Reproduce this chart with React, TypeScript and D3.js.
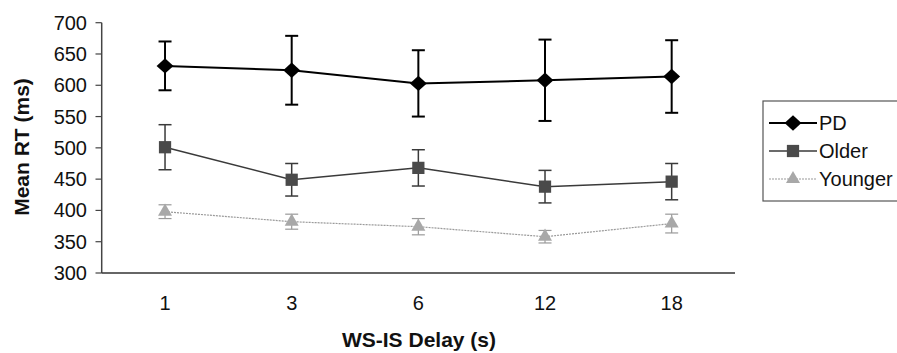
import React from 'react';
import * as d3 from 'd3';

// data
const delays = ['1', '3', '6', '12', '18'];
const pdMean = [631, 624, 603, 608, 614];
const pdErr = [39, 55, 53, 65, 58];
const olderMean = [501, 449, 468, 438, 446];
const olderErr = [36, 26, 29, 26, 29];
const youngerMean = [398, 382, 374, 358, 379];
const youngerErr = [11, 12, 13, 10, 15];
const yTicks = [300, 350, 400, 450, 500, 550, 600, 650, 700];

const W = 897;
const H = 353;
const FONT = 'Liberation Sans, Arial, sans-serif';

const x = d3.scalePoint<string>().domain(delays).range([101.7, 735]).padding(0.5);
const y = d3.scaleLinear().domain([300, 700]).range([273, 22.7]);

const series = [
  { name: 'PD', mean: pdMean, err: pdErr, color: '#000', width: 2, symbol: d3.symbolDiamond2, size: 150, fill: '#000', sx: 1.1, dash: undefined as string | undefined },
  { name: 'Older', mean: olderMean, err: olderErr, color: '#3a3a3a', width: 1.5, symbol: d3.symbolSquare, size: 150, fill: '#4a4a4a', sx: 1, dash: undefined },
  { name: 'Younger', mean: youngerMean, err: youngerErr, color: '#9a9a9a', width: 1.2, symbol: d3.symbolTriangle, size: 85, fill: '#a8a8a8', sx: 1, dash: '2,1' },
];

const line = d3.line<number>().x((_, i) => x(delays[i])!).y(d => y(d));

export default function App() {
  const cap = 6.5;
  return (
    <svg width={W} height={H} style={{ position: 'absolute', left: 0, top: 0, background: '#fff' }}>
      {/* y axis */}
      <line x1={101.7} x2={101.7} y1={y(700)} y2={y(300)} stroke="#444" strokeWidth={1.5} />
      {yTicks.map(t => (
        <g key={t}>
          <line x1={95.5} x2={101.7} y1={y(t)} y2={y(t)} stroke="#444" strokeWidth={1.2} />
          <text x={87} y={y(t)} dy="0.35em" textAnchor="end" fontFamily={FONT} fontSize={20} fill="#111">{t}</text>
        </g>
      ))}
      {/* x axis */}
      <line x1={101.7} x2={735} y1={y(300)} y2={y(300)} stroke="#333" strokeWidth={1.5} />
      {delays.map(d => (
        <text key={d} x={x(d)} y={310} textAnchor="middle" fontFamily={FONT} fontSize={20} fill="#111">{d}</text>
      ))}
      <text x={419} y={347} textAnchor="middle" fontFamily={FONT} fontSize={21} fontWeight="bold" fill="#111">WS-IS Delay (s)</text>
      <text transform="translate(29,147) rotate(-90)" textAnchor="middle" fontFamily={FONT} fontSize={21} fontWeight="bold" fill="#111">Mean RT (ms)</text>

      {/* series */}
      {series.map(s => (
        <g key={s.name}>
          <path d={line(s.mean)!} fill="none" stroke={s.color} strokeWidth={s.width} strokeDasharray={s.dash} />
          {s.mean.map((m, i) => {
            const cx = x(delays[i])!;
            return (
              <g key={i} stroke={s.color} strokeWidth={s.width}>
                <line x1={cx} x2={cx} y1={y(m + s.err[i])} y2={y(m - s.err[i])} />
                <line x1={cx - cap} x2={cx + cap} y1={y(m + s.err[i])} y2={y(m + s.err[i])} />
                <line x1={cx - cap} x2={cx + cap} y1={y(m - s.err[i])} y2={y(m - s.err[i])} />
              </g>
            );
          })}
          {s.mean.map((m, i) => (
            <path key={'m' + i} transform={`translate(${x(delays[i])},${y(m)}) scale(${s.sx},1)`}
              d={d3.symbol(s.symbol, s.size)()!} fill={s.fill} />
          ))}
        </g>
      ))}

      {/* legend */}
      <rect x={763} y={101} width={140} height={100} fill="none" stroke="#555" strokeWidth={1.2} />
      {series.map((s, i) => {
        const ly = 123 + i * 28;
        return (
          <g key={s.name}>
            <line x1={769} x2={817} y1={ly} y2={ly} stroke={s.color} strokeWidth={s.width} strokeDasharray={s.dash} />
            <path transform={`translate(793,${ly}) scale(${s.sx},1)`} d={d3.symbol(s.symbol, s.size)()!} fill={s.fill} />
            <text x={819} y={ly} dy="0.35em" fontFamily={FONT} fontSize={20} fill="#111">{s.name}</text>
          </g>
        );
      })}
    </svg>
  );
}
